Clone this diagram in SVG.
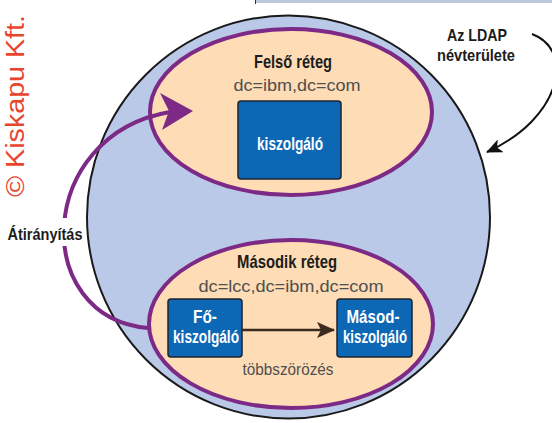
<svg xmlns="http://www.w3.org/2000/svg" width="552" height="423" viewBox="0 0 552 423">
<style>
.t{font-family:"Liberation Sans",Arial,sans-serif;text-anchor:middle}
.title{font-weight:bold;font-size:19px;fill:#1c1c1c}
.dn{font-size:16px;fill:#4f4f4f}
.bt{font-weight:bold;font-size:18px;fill:#ffffff}
.lbl{font-weight:bold;font-size:17px;fill:#1c1c1c}
.box{fill:#0c67b4;stroke:#1b2530;stroke-width:1.5}
.layer{fill:#fddcb6;stroke:#7c2a86;stroke-width:4}
</style>
<defs>
<marker id="blk" viewBox="0 0 16 14" refX="15" refY="7" markerWidth="16" markerHeight="14" markerUnits="userSpaceOnUse" orient="auto">
<path d="M0,0 L16,7 L0,14 L4,7 z" fill="#111"/>
</marker>
<marker id="brn" viewBox="0 0 18 16" refX="17" refY="8" markerWidth="18" markerHeight="16" markerUnits="userSpaceOnUse" orient="auto">
<path d="M0,0 L18,8 L0,16 L4,8 z" fill="#3a2a20"/>
</marker>
</defs>
<rect width="552" height="423" fill="#ffffff"/>
<g id="top-strip">
<rect x="256" y="-1" width="296" height="4" fill="#bcc7da"/>
<line x1="255.5" y1="0" x2="255.5" y2="4" stroke="#333" stroke-width="1"/>
</g>
<g id="watermark">
<text transform="translate(24,197) rotate(-90)" font-family="Liberation Sans, Arial, sans-serif" font-size="26" fill="#e8452f" textLength="182" lengthAdjust="spacingAndGlyphs">© Kiskapu Kft.</text>
</g>
<g id="namespace">
<circle cx="288.5" cy="217" r="201.5" fill="#b9c9e7" stroke="#1a1a1a" stroke-width="2"/>
</g>
<g id="top-layer">
<ellipse class="layer" cx="291" cy="112" rx="141" ry="83"/>
<text class="t title" x="293" y="68" textLength="78" lengthAdjust="spacingAndGlyphs">Felső réteg</text>
<text class="t dn" x="297" y="91" textLength="127" lengthAdjust="spacingAndGlyphs">dc=ibm,dc=com</text>
</g>
<g id="top-server">
<rect class="box" x="238" y="101" width="103" height="78" rx="3"/>
<text class="t bt" x="290" y="150" textLength="66" lengthAdjust="spacingAndGlyphs">kiszolgáló</text>
</g>
<g id="second-layer">
<ellipse class="layer" cx="291" cy="324" rx="142" ry="84"/>
<text class="t title" x="287" y="268" textLength="100" lengthAdjust="spacingAndGlyphs">Második réteg</text>
<text class="t dn" x="291" y="292" textLength="185" lengthAdjust="spacingAndGlyphs">dc=lcc,dc=ibm,dc=com</text>
<text class="t dn" x="288" y="375" textLength="91" lengthAdjust="spacingAndGlyphs">többszörözés</text>
</g>
<g id="master-server">
<rect class="box" x="168" y="299" width="74" height="58" rx="3"/>
<text class="t bt" x="205" y="323" textLength="24" lengthAdjust="spacingAndGlyphs">Fő-</text>
<text class="t bt" x="206" y="343" textLength="66" lengthAdjust="spacingAndGlyphs">kiszolgáló</text>
</g>
<g id="replica-server">
<rect class="box" x="337" y="299" width="75" height="58" rx="3"/>
<text class="t bt" x="373" y="323" textLength="53" lengthAdjust="spacingAndGlyphs">Másod-</text>
<text class="t bt" x="375" y="343" textLength="64" lengthAdjust="spacingAndGlyphs">kiszolgáló</text>
</g>
<g id="connectors">
<line x1="242" y1="330" x2="334" y2="330" stroke="#3a2a20" stroke-width="2.5" marker-end="url(#brn)"/>
<path d="M532,34 C575,50 562,118 487,152" fill="none" stroke="#111" stroke-width="2" marker-end="url(#blk)"/>
<path d="M148,328 C30,318 35,135 170,112" fill="none" stroke="#7c2a86" stroke-width="4"/>
<polygon points="160,93 193,111 162,130 169,111" fill="#7c2a86"/>
</g>
<g id="labels">
<rect x="6" y="218" width="78" height="28" fill="#ffffff"/>
<text class="t lbl" x="45" y="240" textLength="75" lengthAdjust="spacingAndGlyphs">Átirányítás</text>
<text class="t lbl" x="477" y="41" textLength="60" lengthAdjust="spacingAndGlyphs">Az LDAP</text>
<text class="t lbl" x="476" y="61" textLength="78" lengthAdjust="spacingAndGlyphs">névterülete</text>
</g>
</svg>
